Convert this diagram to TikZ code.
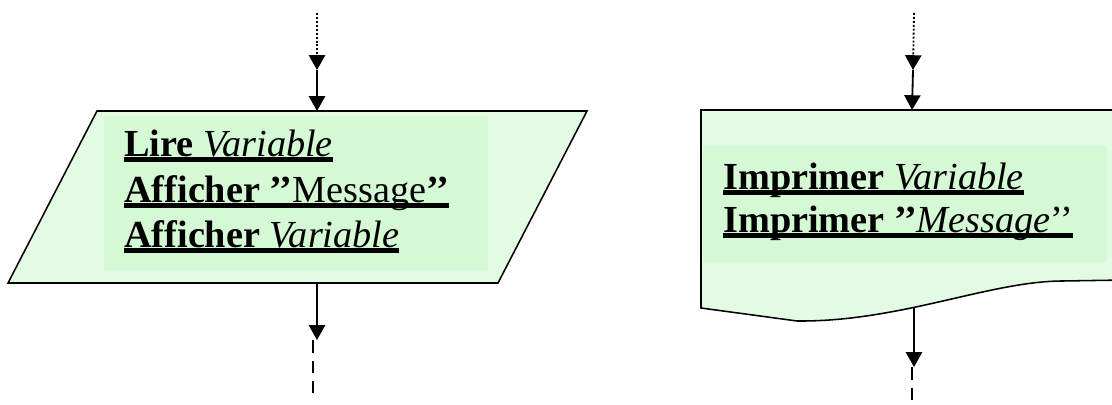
\documentclass[tikz,border=0pt]{standalone}
\usepackage{fontspec}
\setmainfont{Liberation Serif}
\usetikzlibrary{arrows.meta}
\definecolor{paper}{RGB}{226,251,226}
\definecolor{textbg}{RGB}{213,248,213}
\newcommand{\ulbox}[1]{\setbox0\hbox{#1}\rlap{\rule[-3.4pt]{\wd0}{3.1pt}}\box0}

\begin{document}
\begin{tikzpicture}[x=0.025cm, y=-0.025cm, io/.style={draw, line width=1.1pt, fill=paper}, textbox/.style={fill=textbg}, txt/.style={anchor=base west, inner sep=0pt, font=\fontsize{27.2}{32}\selectfont}, n/.style={-{Triangle[length=10.5pt, width=11.5pt]}, line width=1.3pt}, dt/.style={-{Triangle[length=10.5pt, width=11.5pt]}, line width=1.3pt, dash pattern=on 1.4pt off 1.4pt}, d/.style={line width=1.2pt, dash pattern=on 9pt off 5.7pt}]
                \useasboundingbox (0,0) rectangle (1112,405);
                % shapes
                \draw[io] (97,111) -- (587,111) -- (498,283) -- (8,283) -- cycle;
                \fill[textbox] (104,116) rectangle (488,270);
                \draw[io] (701,110) -- (1125,110) -- (1125,280) -- (1063,281) .. controls (990,281) and (900,322) .. (797,321) -- (701,308) -- cycle;
                \fill[textbox] (703,146) rectangle (1107,262);
                % nodes
                \node[txt] (lire) at (124,157) {\ulbox{\textbf{Lire} \textit{Variable}}};
                \node[txt] (affMsg) at (124,203) {\ulbox{\textbf{Afficher ’’}Message\textbf{’’}}};
                \node[txt] (affVar) at (124,248) {\ulbox{\textbf{Afficher} \textit{Variable}}};
                \node[txt] (impVar) at (723,190) {\ulbox{\textbf{Imprimer} \textit{Variable}}};
                \node[txt] (impMsg) at (723,233) {\ulbox{\textbf{Imprimer ’’}\textit{Message}’’}};
                \coordinate (src1) at (317,13);
                \coordinate (mid1) at (317,70);
                \coordinate (in1) at (317,111);
                \coordinate (out1) at (317,283);
                \coordinate (nxt1) at (317,340);
                \coordinate (cut1) at (313,340);
                \coordinate (end1) at (313,393);
                \coordinate (src2) at (914,13);
                \coordinate (mid2) at (913,70);
                \coordinate (in2) at (912,110);
                \coordinate (out2) at (914,308);
                \coordinate (nxt2) at (914,367);
                \coordinate (cut2) at (912,367);
                \coordinate (end2) at (912,408);
                % edges
                \draw [dt] (src1) -- (mid1);
                \draw [n] (mid1) -- (in1);
                \draw [n] (out1) -- (nxt1);
                \draw [d] (cut1) -- (end1);
                \draw [dt] (src2) -- (mid2);
                \draw [n] (mid2) -- (in2);
                \draw [n] (out2) -- (nxt2);
                \draw [d] (cut2) -- (end2);
            \end{tikzpicture}
\end{document}
